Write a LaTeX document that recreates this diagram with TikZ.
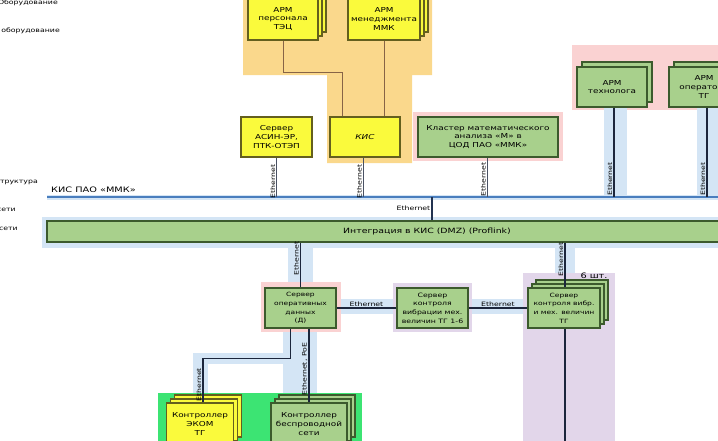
\documentclass[tikz,border=0pt]{standalone}
\usepackage{fontspec}
\setmainfont{DejaVu Sans}[FakeStretch=1.3]
\usetikzlibrary{shadows}

\definecolor{yfill}{RGB}{250,250,60}
\definecolor{yedge}{RGB}{100,95,30}
\definecolor{gfill}{RGB}{168,208,140}
\definecolor{gedge}{RGB}{60,90,45}
\definecolor{orzone}{RGB}{250,216,140}
\definecolor{pkzone}{RGB}{250,210,210}
\definecolor{puzone}{RGB}{226,214,234}
\definecolor{grzone}{RGB}{60,228,115}
\definecolor{blzone}{RGB}{212,229,245}
\definecolor{busc}{RGB}{74,126,190}
\definecolor{linkc}{RGB}{28,38,60}
\definecolor{brownc}{RGB}{135,100,70}

\newcommand\boxfont{\fontsize{6.8}{8.6}\selectfont}
\newcommand\smallboxfont{\fontsize{6}{8.6}\selectfont}
\newcommand\lblfont{\fontsize{6}{6.5}\selectfont}

\begin{document}
\begin{tikzpicture}[x=1pt, y=-1pt,
  ybox/.style={draw=yedge, fill=yfill, line width=1.1pt, minimum width=70pt,
               minimum height=40pt, align=center, font=\boxfont, inner sep=1pt},
  gbox/.style={draw=gedge, fill=gfill, line width=1.1pt, minimum width=70pt,
               minimum height=40pt, align=center, font=\boxfont, inner sep=1pt},
  stackb/.style={double copy shadow={shadow xshift=4pt, shadow yshift=4pt}},
  stacka/.style={copy shadow={shadow xshift=5pt, shadow yshift=5pt}},
  link/.style={draw=linkc, line width=1.4pt},
  flink/.style={draw=linkc!80, line width=0.8pt},
  blink/.style={draw=brownc, line width=1pt},
  elbl/.style={font=\lblfont, inner sep=1pt},
  side/.style={font=\fontsize{6}{7}\selectfont, inner sep=0pt}
]
\path[use as bounding box] (0,0) rectangle (718,440);
\clip (0,0) rectangle (718,440);

% zones
\fill[orzone] (243,-5) -- (432,-5) -- (432,75) -- (412,75) -- (412,163)
  -- (327,163) -- (327,75) -- (243,75) -- cycle;
\fill[pkzone] (413,112) rectangle (563,161);
\fill[pkzone] (572,45) rectangle (725,110);
\fill[pkzone] (261,282) rectangle (341,332);
\fill[puzone] (393,283) rectangle (472,332);
\fill[puzone] (523,273) rectangle (615,445);
\fill[grzone] (158,393) rectangle (362,445);
\fill[blzone] (42,217) rectangle (725,248);
% strips under the links
\fill[blzone] (604,107) rectangle (627,195);
\fill[blzone] (697,107) rectangle (720,195);
\fill[blzone] (288,248) rectangle (313,282);
\fill[blzone] (555,248) rectangle (575,273);
\fill[blzone] (341,299) rectangle (393,314);
\fill[blzone] (472,299) rectangle (523,314);
\fill[blzone] (283,332) rectangle (317,393);
\fill[blzone] (193,353) rectangle (283,364);
\fill[blzone] (193,364) rectangle (208,393);

% side captions
\node[side, anchor=east] (capa) at (58,3) {Оборудование};
\node[side, anchor=east] (capb) at (60,31) {оборудование};
\node[side, anchor=east] (capc) at (38,182) {Инфраструктура};
\node[side, anchor=east] (capd) at (16,210) {сети};
\node[side, anchor=east] (cape) at (18,229) {сети};

% bus
\coordinate (busL) at (47,197);
\coordinate (busR) at (725,197);
\coordinate (busdmz) at (432,197);
\draw[blzone, line width=5pt] (busL) -- (busR);
\draw[busc, line width=2.6pt] (busL) -- (busR);
\node[font=\fontsize{7.5}{8}\selectfont, anchor=south west, inner sep=1pt] (buslbl) at (50,194) {КИС ПАО «ММК»};

% boxes
\node[ybox, stackb, minimum height=42pt] (armtec) at (283,19) {АРМ\\персонала\\ТЭЦ};
\node[ybox, stackb, minimum width=72pt, minimum height=42pt] (armmmk) at (384,19) {АРМ\\менеджмента\\ММК};
\node[ybox, minimum width=71pt] (asin) at (276.5,137) {Сервер\\АСИН-ЭР,\\ПТК-ОТЭП};
\node[ybox] (kis) at (365,137) {\itshape КИС};
\node[gbox, minimum width=140pt] (cluster) at (488,137) {Кластер математического\\анализа «М» в\\ЦОД ПАО «ММК»};
\node[gbox, stacka] (armtech) at (612,87) {АРМ\\технолога};
\node[gbox, stacka] (armop) at (704,87) {АРМ\\оператора\\ТГ};
\node[gbox, minimum width=760pt, minimum height=21pt, font=\fontsize{7.2}{8}\selectfont] (integ) at (427,231.5) {Интеграция в КИС (DMZ) (Proflink)};
\node[gbox, minimum width=71pt, font=\fontsize{5.8}{8.8}\selectfont] (srvop) at (300.5,308) {Сервер\\оперативных\\данных\\(Д)};
\node[gbox, minimum width=71pt, font=\smallboxfont] (srvvib) at (432.5,308) {Сервер\\контроля\\вибрации мех.\\величин ТГ 1-6};
\node[gbox, stackb, minimum width=72pt, font=\fontsize{5.8}{8.6}\selectfont] (srvtg) at (564,308) {Сервер\\контроля вибр.\\и мех. величин\\ТГ};
\node[font=\fontsize{7.5}{8}\selectfont, inner sep=0pt] (qty) at (594,276) {6 шт.};
\node[ybox, stackb, minimum width=67pt, minimum height=42pt] (ecom) at (200,424) {Контроллер\\ЭКОМ\\ТГ};
\node[gbox, stackb, minimum width=76pt, minimum height=42pt] (wifi) at (309,424) {Контроллер\\беспроводной\\сети};

% links above the bus
\draw[blink] (armtec.south) -- ++(0,32) -| ([xshift=-23pt]kis.north);
\draw[blink] (armmmk.south) -- (armmmk.south |- kis.north);
\draw[flink] (asin.south) -- (asin.south |- busL)
  node[elbl, rotate=90, anchor=south, pos=0.6] (easin) {Ethernet};
\draw[flink] ([xshift=-2pt]kis.south) -- ([xshift=-2pt]kis.south |- busL)
  node[elbl, rotate=90, anchor=south, pos=0.6] (ekis) {Ethernet};
\draw[flink] ([xshift=-1pt]cluster.south) -- ([xshift=-1pt]cluster.south |- busL)
  node[elbl, rotate=90, anchor=south, pos=0.55] (eclu) {Ethernet};
\draw[link] ([xshift=2pt]armtech.south) -- ([xshift=2pt]armtech.south |- busL)
  node[elbl, rotate=90, anchor=south, pos=0.8] (etech) {Ethernet};
\draw[link] ([xshift=3pt]armop.south) -- ([xshift=3pt]armop.south |- busL)
  node[elbl, rotate=90, anchor=south, pos=0.8] (eop) {Ethernet};
\draw[link, draw=linkc!85!busc] (busdmz) -- (busdmz |- integ.north)
  node[elbl, anchor=east, pos=0.5] (edmz) {Ethernet};

% links below the integration
\draw[link] (srvop.north |- integ.south) -- (srvop.north)
  node[elbl, rotate=90, anchor=south, pos=0.35] (eopd) {Ethernet};
\draw[link] ([xshift=1pt]srvtg.north |- integ.south) -- ([xshift=1pt]srvtg.north)
  node[elbl, rotate=90, anchor=south, pos=0.38] (etg) {Ethernet};
\draw[link] (srvop.east) -- (srvvib.west)
  node[elbl, anchor=south, pos=0.5] (evib) {Ethernet};
\draw[link] (srvvib.east) -- (srvtg.west)
  node[elbl, anchor=south, pos=0.5] (etgv) {Ethernet};
\coordinate (tgdown) at (565,445);
\draw[link] ([xshift=1pt]srvtg.south) -- (tgdown);
\draw[link] ([xshift=-10pt]srvop.south) -- ++(0,30) -| ([xshift=3pt]ecom.north)
  node[elbl, rotate=90, anchor=south, pos=0.8] (eecom) {Ethernet};
\draw[link] ([xshift=8.5pt]srvop.south) -- ([xshift=8.5pt]srvop.south |- wifi.north)
  node[elbl, rotate=90, anchor=south, pos=0.55] (ewifi) {Ethernet, PoE};
\end{tikzpicture}
\end{document}
